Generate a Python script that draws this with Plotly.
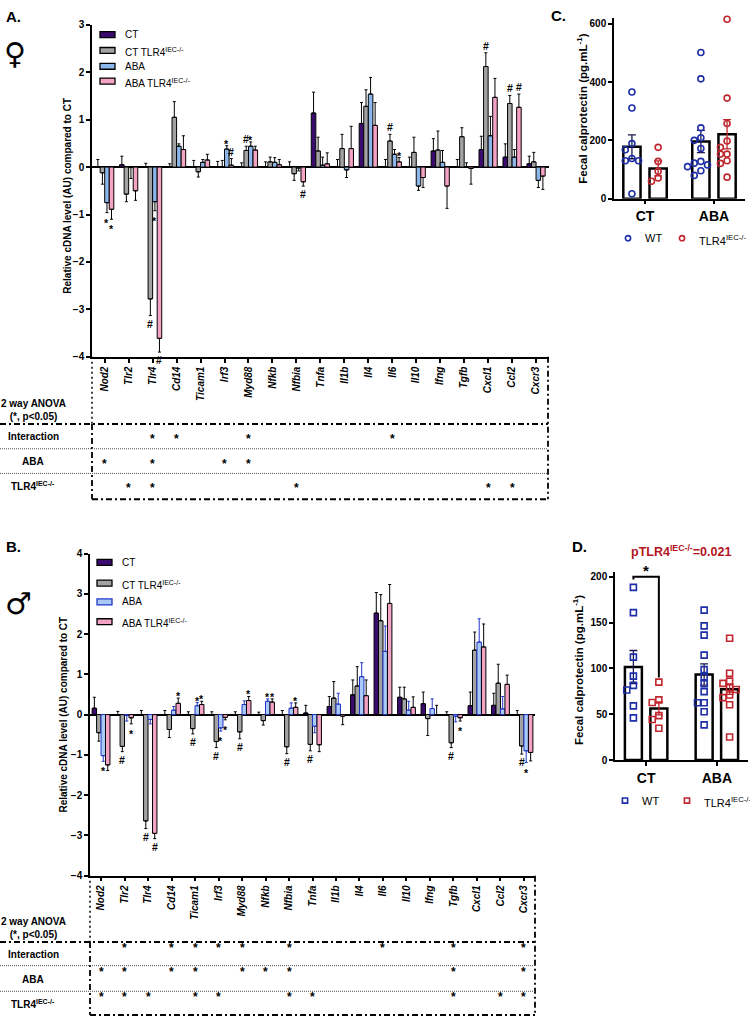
import plotly.graph_objects as go

W, H = 750, 1023
FONT = "Liberation Sans, Arial, sans-serif"

genes = ["Nod2", "Tlr2", "Tlr4", "Cd14", "Ticam1", "Irf3", "Myd88", "Nfkb", "Nfbia", "Tnfa",
         "Il1b", "Il4", "Il6", "Il10", "Ifng", "Tgfb", "Cxcl1", "Ccl2", "Cxcr3"]
groups = ["CT", "CT TLR4<sup>IEC-/-</sup>", "ABA", "ABA TLR4<sup>IEC-/-</sup>"]
genotypes = ["WT", "TLR4<sup>IEC-/-</sup>"]

# ---- Panel A (female) : mean and SEM ----
fem_ct        = [0.00, 0.05, 0.00, 0.00, 0.00, 0.00, 0.00, 0.00, 0.00, 1.14, 0.00, 0.92, 0.00, 0.00, 0.34, 0.00, 0.37, 0.21, 0.07]
fem_ct_sem    = [0.16, 0.18, 0.08, 0.07, 0.14, 0.12, 0.09, 0.11, 0.11, 0.44, 0.16, 0.44, 0.16, 0.21, 0.26, 0.16, 0.28, 0.28, 0.16]
fem_ko        = [-0.12, -0.57, -2.78, 1.05, -0.10, 0.00, 0.35, 0.11, -0.14, 0.34, 0.39, 1.28, 0.55, 0.31, 0.36, 0.64, 2.12, 1.34, 0.11]
fem_ko_sem    = [0.24, 0.16, 0.35, 0.33, 0.11, 0.14, 0.09, 0.10, 0.14, 0.29, 0.30, 0.35, 0.14, 0.32, 0.40, 0.19, 0.29, 0.17, 0.20]
fem_aba       = [-0.75, -0.01, -0.73, 0.44, 0.10, 0.38, 0.44, 0.10, -0.02, 0.04, -0.06, 1.54, 0.27, -0.40, 0.10, 0.00, 0.66, 0.21, -0.28]
fem_aba_sem   = [0.21, 0.23, 0.19, 0.05, 0.06, 0.07, 0.09, 0.10, 0.06, 0.17, 0.16, 0.35, 0.10, 0.09, 0.25, 0.09, 0.41, 0.16, 0.15]
fem_abako     = [-0.89, -0.50, -3.61, 0.37, 0.15, 0.04, 0.36, 0.05, -0.31, 0.07, 0.39, 0.88, 0.11, -0.22, -0.40, -0.03, 1.47, 1.26, -0.19]
fem_abako_sem = [0.21, 0.20, 0.29, 0.29, 0.12, 0.14, 0.08, 0.11, 0.09, 0.23, 0.47, 0.48, 0.09, 0.21, 0.47, 0.33, 0.40, 0.28, 0.28]

fem_marks = [("Nod2", 2, "*"), ("Nod2", 3, "*"), ("Tlr4", 1, "#"), ("Tlr4", 2, "*"), ("Tlr4", 3, "#"),
             ("Irf3", 2, "*"), ("Irf3", 3, "#"), ("Myd88", 1, "#"), ("Myd88", 2, "*"), ("Nfbia", 3, "#"),
             ("Il6", 1, "#"), ("Il6", 3, "*"), ("Cxcl1", 1, "#"), ("Ccl2", 1, "#"), ("Ccl2", 3, "#")]
fem_interaction = ["Tlr4", "Cd14", "Myd88", "Il6"]
fem_aba_eff     = ["Nod2", "Tlr4", "Irf3", "Myd88"]
fem_tlr4_eff    = ["Tlr2", "Tlr4", "Nfbia", "Cxcl1", "Ccl2"]

# ---- Panel B (male) ----
male_ct        = [0.16, 0.00, 0.00, 0.00, 0.00, 0.00, 0.00, 0.00, 0.00, 0.04, 0.20, 0.49, 2.52, 0.43, 0.27, 0.00, 0.22, 0.23, 0.00]
male_ct_sem    = [0.27, 0.08, 0.10, 0.10, 0.07, 0.07, 0.07, 0.06, 0.10, 0.19, 0.25, 0.37, 0.51, 0.25, 0.29, 0.07, 0.34, 0.30, 0.10]
male_ko        = [-0.45, -0.79, -2.64, -0.37, -0.35, -0.67, -0.43, -0.15, -0.80, -0.74, 0.41, 0.71, 2.33, 0.39, -0.10, -0.70, 1.60, 0.78, -0.78]
male_ko_sem    = [0.21, 0.13, 0.19, 0.20, 0.13, 0.15, 0.17, 0.11, 0.17, 0.16, 0.41, 0.48, 0.65, 0.29, 0.42, 0.12, 0.45, 0.47, 0.20]
male_aba       = [-1.02, -0.01, -0.12, 0.11, 0.22, -0.33, 0.25, 0.33, 0.16, -0.29, 0.26, 0.94, 1.57, 0.11, 0.15, -0.04, 1.80, 0.14, -0.90]
male_aba_sem   = [0.14, 0.15, 0.11, 0.09, 0.08, 0.08, 0.09, 0.06, 0.13, 0.16, 0.27, 0.35, 0.63, 0.22, 0.24, 0.14, 0.58, 0.31, 0.29]
male_abako     = [-1.25, -0.08, -2.95, 0.28, 0.25, -0.07, 0.35, 0.31, 0.18, -0.75, -0.04, 0.47, 2.76, 0.18, 0.00, -0.08, 1.68, 0.75, -0.94]
male_abako_sem = [0.14, 0.15, 0.13, 0.13, 0.08, 0.06, 0.10, 0.08, 0.11, 0.17, 0.21, 0.39, 0.47, 0.26, 0.23, 0.08, 0.57, 0.23, 0.21]

male_marks = [("Nod2", 2, "*"), ("Tlr2", 1, "#"), ("Tlr2", 3, "*"), ("Tlr4", 1, "#"), ("Tlr4", 3, "#"),
              ("Cd14", 3, "*"), ("Ticam1", 1, "#"), ("Ticam1", 2, "*"), ("Ticam1", 3, "*"),
              ("Irf3", 1, "#"), ("Irf3", 2, "*"), ("Irf3", 3, "*"), ("Myd88", 1, "#"), ("Myd88", 3, "*"),
              ("Nfkb", 2, "*"), ("Nfkb", 3, "*"), ("Nfbia", 1, "#"), ("Nfbia", 3, "*"), ("Tnfa", 1, "#"),
              ("Tgfb", 1, "#"), ("Tgfb", 3, "*"), ("Cxcr3", 1, "#"), ("Cxcr3", 2, "*")]
male_interaction = ["Tlr2", "Cd14", "Ticam1", "Irf3", "Myd88", "Nfbia", "Il6", "Tgfb", "Cxcr3"]
male_aba_eff     = ["Nod2", "Tlr2", "Cd14", "Ticam1", "Myd88", "Nfkb", "Nfbia", "Tgfb", "Cxcr3"]
male_tlr4_eff    = ["Nod2", "Tlr2", "Tlr4", "Ticam1", "Irf3", "Nfbia", "Tnfa", "Tgfb", "Ccl2", "Cxcr3"]

# ---- Panel C (female fecal calprotectin) ----
cal_groups = ["CT", "ABA"]
c_wt_ct  = [366, 311, 189, 168, 138, 130, 130, 17]
c_ko_ct  = [176, 128, 94, 71, 60]
c_wt_aba = [501, 411, 243, 209, 200, 172, 128, 122, 116, 110, 96, 80]
c_ko_aba = [615, 345, 258, 198, 176, 153, 153, 130, 121, 74]
c_bar_wt = [178, 196]
c_sem_wt = [41, 38]
c_bar_ko = [104, 221]
c_sem_ko = [26, 50]

# ---- Panel D (male fecal calprotectin) ----
d_wt_ct  = [188.5, 160.9, 112.4, 91.6, 81.5, 76.5, 59.2, 46.0]
d_ko_ct  = [85.1, 65.7, 62.8, 48.5, 44.2, 34.8]
d_wt_aba = [163.7, 146.5, 136.4, 114.5, 98.7, 90.8, 83.3, 74.7, 62.5, 62.5, 52.8, 38.4]
d_ko_aba = [132.9, 94.8, 86.2, 83.7, 79.0, 77.0, 71.1, 68.2, 60.3, 25.1]
d_bar_wt = [101.6, 93.4]
d_sem_wt = [18, 11.5]
d_bar_ko = [56.4, 77.2]
d_sem_ko = [7, 5.5]


def X(px):
    return px / W


def Y(py):
    return 1 - py / H


fig = go.Figure()
annotations = []
shapes = []

W_BAR = 0.19
A_fill = ["#3b0b6e", "#a3a3a3", "#8db6ea", "#f5a3c5"]
A_line = ["black", "black", "black", "black"]
A_err = ["black", "black", "black", "black"]
B_fill = ["#3b0b6e", "#a3a3a3", "#a9c9f6", "#f5a3c5"]
B_line = ["black", "black", "#2136c9", "black"]
B_err = ["black", "black", "#2136c9", "black"]
PT_BLUE, PT_RED = "#1d2ea6", "#c0262d"


def txt(px, py, text, size=10, bold=True, angle=0, color="black", xanchor="center", family=FONT):
    annotations.append(dict(x=X(px), y=Y(py), xref="paper", yref="paper", text=text, showarrow=False,
                            textangle=angle, xanchor=xanchor, yanchor="middle",
                            font=dict(family=family, size=size, color=color,
                                      weight="bold" if bold else "normal")))


def gene_panel(series, sems, xa, ya, fills, lines, errs, marks):
    for k, (m, s) in enumerate(zip(series, sems)):
        xs = [i + (k - 1.5) * W_BAR for i in range(len(genes))]
        up = [e if v >= 0 else 0 for v, e in zip(m, s)]
        dn = [e if v < 0 else 0 for v, e in zip(m, s)]
        fig.add_trace(go.Bar(
            x=xs, y=m, width=W_BAR, name=groups[k], xaxis=xa, yaxis=ya, showlegend=False,
            marker=dict(color=fills[k], line=dict(color=lines[k], width=1)),
            error_y=dict(type="data", symmetric=False, array=up, arrayminus=dn,
                         color=errs[k], thickness=1, width=1.5),
            hoverinfo="skip"))
    for gname, k, sym in marks:
        i = genes.index(gname)
        v = series[k][i]
        e = sems[k][i]
        tip = v + e if v >= 0 else v - e
        if v >= 0:
            shift = 2 if sym == "*" else 7
        else:
            shift = -10 if sym == "*" else -8
        annotations.append(dict(
            x=i + (k - 1.5) * W_BAR, y=tip, xref=xa, yref=ya,
            text=sym, showarrow=False, yshift=shift,
            font=dict(family=FONT, size=10.5, color="black", weight="bold")))


def bar_legend(x0, ys, fills, lines):
    for name, y, f, l in zip(groups, ys, fills, lines):
        shapes.append(dict(type="rect", xref="paper", yref="paper", x0=X(x0), x1=X(x0 + 15),
                           y0=Y(y + 3), y1=Y(y - 3), fillcolor=f, line=dict(color=l, width=1.3)))
        txt(x0 + 23, y + (1.5 if "sup" in name else 0), name, 10, bold=False, xanchor="left")


def point_legend(xs, y, kind):
    for name, x0, col in zip(genotypes, xs, [PT_BLUE, PT_RED]):
        shapes.append(dict(type=kind, xref="paper", yref="paper", x0=X(x0 - 2.6), x1=X(x0 + 2.6),
                           y0=Y(y + 2.6), y1=Y(y - 2.6), line=dict(color=col, width=1.6)))
        txt(x0 + 15, y + (1.5 if "sup" in name else 0), name, 11, bold=False, xanchor="left")


gene_panel([fem_ct, fem_ko, fem_aba, fem_abako], [fem_ct_sem, fem_ko_sem, fem_aba_sem, fem_abako_sem],
           "x", "y", A_fill, A_line, A_err, fem_marks)
gene_panel([male_ct, male_ko, male_aba, male_abako], [male_ct_sem, male_ko_sem, male_aba_sem, male_abako_sem],
           "x2", "y2", B_fill, B_line, B_err, male_marks)
bar_legend(100, [29, 45, 61, 76], A_fill, A_line)
bar_legend(97, [563, 584, 603, 623], B_fill, B_line)
point_legend([628, 682], 235, "circle")
point_legend([625, 687], 804, "rect")


def swarm(vals, ppu_y, ppu_x, size_px):
    placed = []
    out = []
    for v in vals:
        chosen = 0.0
        for k in [0, -1, 1, -2, 2, -3, 3]:
            dx = k * size_px * 0.95
            if all((abs(v - pv) * ppu_y) ** 2 + (dx - pdx) ** 2 >= (size_px * 0.95) ** 2 for pv, pdx in placed):
                chosen = dx
                break
        placed.append((v, chosen))
        out.append(chosen / ppu_x)
    return out


def cal_panel(xa, ya, bar_wt, sem_wt, bar_ko, sem_ko, pts, off, bw, ppu_y, ppu_x, symbol):
    fig.add_trace(go.Bar(x=[g - off for g in range(2)], y=bar_wt, width=bw, xaxis=xa, yaxis=ya,
                         marker=dict(color="white", line=dict(color="black", width=2.5)),
                         error_y=dict(type="data", array=sem_wt, color="#1a1a50", thickness=1.3, width=4),
                         showlegend=False, hoverinfo="skip"))
    fig.add_trace(go.Bar(x=[g + off for g in range(2)], y=bar_ko, width=bw, xaxis=xa, yaxis=ya,
                         marker=dict(color="white", line=dict(color="black", width=2.5)),
                         error_y=dict(type="data", array=sem_ko, color=PT_RED, thickness=1.3, width=4),
                         showlegend=False, hoverinfo="skip"))
    for (vals_ct, vals_aba), sgn, col, name in [((pts[0], pts[2]), -1, PT_BLUE, genotypes[0]),
                                               ((pts[1], pts[3]), 1, PT_RED, genotypes[1])]:
        xs, ys = [], []
        for g, vals in enumerate([vals_ct, vals_aba]):
            jit = swarm(vals, ppu_y, ppu_x, 7)
            xs += [g + sgn * off + j for j in jit]
            ys += list(vals)
        fig.add_trace(go.Scatter(x=xs, y=ys, mode="markers", name=name, xaxis=xa, yaxis=ya,
                                 showlegend=False, cliponaxis=False,
                                 marker=dict(symbol=symbol, size=6, color=col, line=dict(color=col, width=1.6)),
                                 hoverinfo="skip"))


cal_panel("x3", "y3", c_bar_wt, c_sem_wt, c_bar_ko, c_sem_ko, [c_wt_ct, c_ko_ct, c_wt_aba, c_ko_aba],
          0.19, 0.25, 177 / 600, 69, "circle-open")
cal_panel("x4", "y4", d_bar_wt, d_sem_wt, d_bar_ko, d_sem_ko, [d_wt_ct, d_ko_ct, d_wt_aba, d_ko_aba],
          0.18, 0.24, 185 / 200, 71, "square-open")

tickf = dict(family=FONT, size=10, color="black", weight="bold")
ax_common = dict(showline=True, linecolor="black", linewidth=1.5, ticks="outside", ticklen=4,
                 tickwidth=1.5, tickcolor="black", showgrid=False)

gene_x = dict(tickvals=list(range(len(genes))), ticktext=genes, tickangle=-90,
              tickfont=dict(family=FONT, size=10, color="black", weight="bold", style="italic"))

fig.update_layout(
    width=W, height=H, margin=dict(l=0, r=0, t=0, b=0),
    paper_bgcolor="white", plot_bgcolor="rgba(0,0,0,0)", barmode="overlay", showlegend=False,
    font=dict(family=FONT, color="black"),
    xaxis=dict(domain=[X(92), X(549)], range=[-0.53, 18.54], anchor="y", zeroline=False, **gene_x, **ax_common),
    yaxis=dict(domain=[Y(355), Y(19)], range=[-4, 3], dtick=1, anchor="x", tickfont=tickf,
               zeroline=True, zerolinecolor="black", zerolinewidth=1.5, **ax_common),
    xaxis2=dict(domain=[X(90), X(535)], range=[-0.47, 18.47], anchor="y2", zeroline=False, **gene_x, **ax_common),
    yaxis2=dict(domain=[Y(880), Y(554)], range=[-4, 4], dtick=1, anchor="x2", tickfont=tickf,
                zeroline=True, zerolinecolor="black", zerolinewidth=1.5, **ax_common),
    xaxis3=dict(domain=[X(614), X(745)], range=[-0.45, 1.45], anchor="y3", tickvals=[0, 1], ticktext=cal_groups,
                zeroline=False, tickfont=dict(family=FONT, size=14, color="black", weight="bold"), **ax_common),
    yaxis3=dict(domain=[Y(195), Y(12)], range=[0, 620], tickvals=[0, 200, 400, 600], anchor="x3",
                zeroline=False, tickfont=tickf, **ax_common),
    xaxis4=dict(domain=[X(615), X(748)], range=[-0.44, 1.44], anchor="y4", tickvals=[0, 1], ticktext=cal_groups,
                zeroline=False, tickfont=dict(family=FONT, size=14, color="black", weight="bold"), **ax_common),
    yaxis4=dict(domain=[Y(763), Y(573)], range=[0, 205], tickvals=[0, 50, 100, 150, 200], anchor="x4",
                zeroline=False, tickfont=tickf, **ax_common),
)


def line(x0, y0, x1, y1, dash, width=1.5, color="black"):
    shapes.append(dict(type="line", xref="paper", yref="paper", x0=X(x0), y0=Y(y0), x1=X(x1), y1=Y(y1),
                       line=dict(color=color, width=width, dash=dash)))


DASHDOT = "6px,3px,2px,3px"


def anova_table(xref, left, right, axis_bottom, top, seps, bottom, rows, row_lists, head_y):
    line(left, axis_bottom, left, top, "2px,3px", 1.5)
    line(left, top, left, bottom, DASHDOT, 1.8)
    line(right, axis_bottom, right, bottom, DASHDOT, 1.8)
    line(0, top, right, top, DASHDOT, 2)
    line(left, bottom, right, bottom, DASHDOT, 2)
    for s in seps:
        line(0, s, right, s, "1px,1px", 1, "#555555")
    txt(33, head_y, "2 way ANOVA<br>(*, p<0.05)", 10)
    labels = ["Interaction", "ABA", "TLR4<sup>IEC-/-</sup>"]
    for lab, ry, glist in zip(labels, rows, row_lists):
        txt(33, ry + 1, lab, 10)
        for g in glist:
            annotations.append(dict(x=genes.index(g), y=Y(ry), xref=xref, yref="paper", text="*",
                                    showarrow=False, yshift=-3,
                                    font=dict(family=FONT, size=12, color="black", weight="bold")))


anova_table("x", 92, 548, 355, 423, [448, 473], 499, [435, 460, 485],
            [fem_interaction, fem_aba_eff, fem_tlr4_eff], 409)
anova_table("x2", 90, 535, 880, 947, [971, 997], 1021, [959, 984, 1009],
            [male_interaction, male_aba_eff, male_tlr4_eff], 933)

# panel letters, sex symbols, axis titles
txt(4, 11, "A.", 15, xanchor="left")
txt(4, 547, "B.", 15, xanchor="left")
txt(549, 10, "C.", 15, xanchor="left")
txt(570, 547, "D.", 15, xanchor="left")
txt(15, 48, "♀", 30, bold=False, family="DejaVu Sans")
txt(18, 605, "♂", 30, bold=False, family="DejaVu Sans")
txt(68, 192, "Relative cDNA level (AU) compared to CT", 10, angle=-90)
txt(64, 717, "Relative cDNA level (AU) compared to CT", 10, angle=-90)
txt(582, 104, "Fecal calprotectin (pg.mL<sup>-1</sup>)", 11.5, angle=-90)
txt(578, 672, "Fecal calprotectin (pg.mL<sup>-1</sup>)", 11.5, angle=-90)
txt(681, 551, "pTLR4<sup>IEC-/-</sup>=0.021", 12.5, color="#b3141c")

# significance bracket on panel D (from the data)
top_y = max(d_wt_ct) + 11.5
x_left, x_right = 0 - 0.18, 0 + 0.18
shapes.append(dict(type="path", xref="x4", yref="y4",
                   path=f"M{x_left},{top_y - 3} L{x_left},{top_y} L{x_right},{top_y} L{x_right},{max(d_ko_ct) + 5}",
                   line=dict(color="black", width=2)))
annotations.append(dict(x=0, y=top_y, xref="x4", yref="y4", text="*", showarrow=False, yshift=6,
                        font=dict(family=FONT, size=15, color="black", weight="bold")))

fig.update_layout(annotations=annotations, shapes=shapes)
fig.write_html("out.html")
